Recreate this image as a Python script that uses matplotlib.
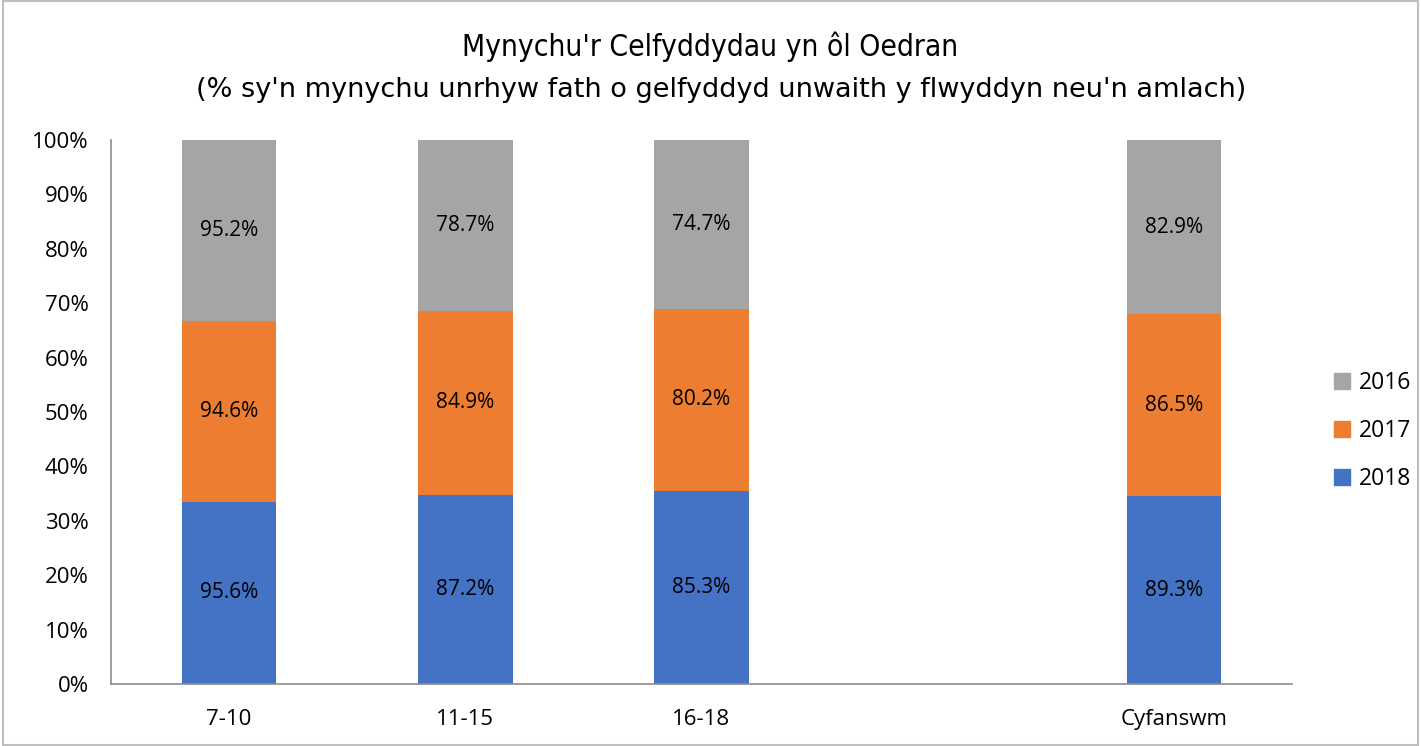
import numpy as np
import matplotlib.pyplot as plt
from matplotlib.patches import Rectangle

categories = ['7-10', '11-15', '16-18', '', 'Cyfanswm']
v2018 = [95.6, 87.2, 85.3, np.nan, 89.3]
v2017 = [94.6, 84.9, 80.2, np.nan, 86.5]
v2016 = [95.2, 78.7, 74.7, np.nan, 82.9]

colors = {'2018': '#4472C4', '2017': '#ED7D31', '2016': '#A5A5A5'}

fig = plt.figure(figsize=(14.21, 7.46), dpi=100)
ax = fig.add_axes([111 / 1421, 1 - 684 / 746, 1181 / 1421, 544 / 746])

x = np.arange(len(categories))
a = np.array(v2018)
b = np.array(v2017)
c = np.array(v2016)
tot = a + b + c
s18, s17, s16 = a / tot, b / tot, c / tot

w = 0.40
bottom = np.zeros(len(x))
for share, vals, key in [(s18, a, '2018'), (s17, b, '2017'), (s16, c, '2016')]:
    for i in range(len(x)):
        if np.isnan(share[i]):
            continue
        ax.bar(x[i], share[i], w, bottom=bottom[i], color=colors[key])
        ax.text(x[i], bottom[i] + share[i] / 2, f'{vals[i]:.1f}%', ha='center',
                va='center', fontsize=15, family='Open Sans', color='black')
    bottom = bottom + np.nan_to_num(share)

ax.set_xlim(-0.5, len(x) - 0.5)
ax.set_ylim(0, 1)
ticks = np.arange(0, 1.01, 0.1)
ax.set_yticks(ticks)
ax.set_yticklabels([f'{int(round(t * 100))}%' for t in ticks],
                   fontsize=16, family='Open Sans')
ax.set_xticks(x)
ax.set_xticklabels(categories, fontsize=16, family='Open Sans')
ax.tick_params(length=0)
ax.tick_params(axis='y', pad=16)
ax.tick_params(axis='x', pad=18)
for side in ['top', 'right']:
    ax.spines[side].set_visible(False)
for side in ['left', 'bottom']:
    ax.spines[side].set_color('#8C8C8C')
    ax.spines[side].set_linewidth(1.2)

fig.text(710 / 1421, 1 - 47 / 746, "Mynychu'r Celfyddydau yn ôl Oedran", ha='center',
         va='center', fontsize=21.5, family='DejaVu Sans', fontstretch='condensed')
fig.text(721 / 1421, 1 - 90 / 746,
         "(% sy'n mynychu unrhyw fath o gelfyddyd unwaith y flwyddyn neu'n amlach)",
         ha='center', va='center', fontsize=19.5, family='DejaVu Sans')

handles = [Rectangle((0, 0), 1, 1, color=colors[k]) for k in ['2016', '2017', '2018']]
fig.legend(handles, ['2016', '2017', '2018'], loc='center left',
           bbox_to_anchor=(1313 / 1421, 1 - 431 / 746), frameon=False,
           prop={'family': 'Open Sans', 'size': 16.5}, handlelength=0.7,
           handleheight=0.7, labelspacing=1.05, handletextpad=0.4)

fig.patches.append(Rectangle((0.002, 0.002), 0.996, 0.996, transform=fig.transFigure,
                             fill=False, edgecolor='#BFBFBF', linewidth=1.5))

fig.savefig('out.png', dpi=100)
